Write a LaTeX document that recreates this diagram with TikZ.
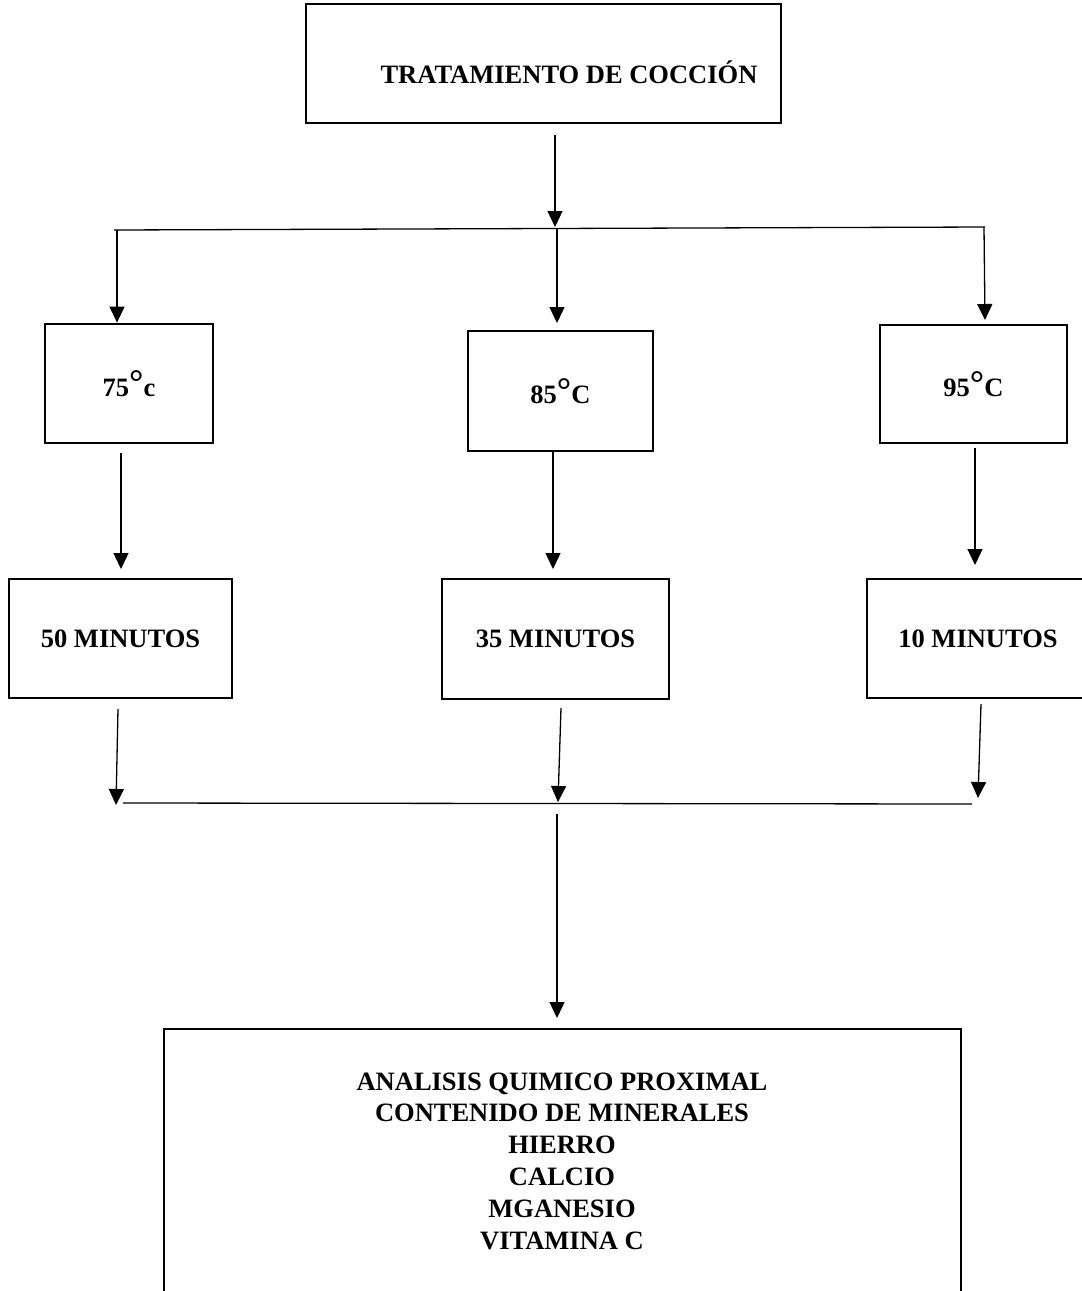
\documentclass[tikz,border=0pt]{standalone}
\usepackage{fontspec}
\setmainfont{Liberation Serif}
\usetikzlibrary{arrows.meta}
\newcommand\mydeg{{\fontsize{36}{36}\selectfont\raisebox{1.5pt}{°}}}
\begin{document}
\begin{tikzpicture}[x=1pt,y=-1pt,
  box/.style={draw=black, line width=2.8pt, inner sep=0pt, rectangle,
    font=\fontsize{26.5}{32}\selectfont\bfseries},
  txt/.style={inner sep=0pt, font=\fontsize{26.5}{32}\selectfont\bfseries},
  conn/.style={line width=1.3pt, draw=black},
  arr/.style={conn, -{Triangle[width=15pt,length=16pt]}}
]
\useasboundingbox (0,0) rectangle (1082,1291);
% top box
\node[box, minimum width=475pt, minimum height=119pt] (top) at (543.5,63.5) {};
\node[txt, anchor=base] (toptxt) at (569,83) {TRATAMIENTO DE COCCIÓN};
% temperature boxes
\node[box, minimum width=168pt, minimum height=119pt] (t75) at (129,383.5) {75\mydeg c};
\node[box, minimum width=185pt, minimum height=120pt] (t85) at (560.5,391) {85\mydeg C};
\node[box, minimum width=187pt, minimum height=118pt] (t95) at (973.5,384) {95\mydeg C};
% time boxes
\node[box, minimum width=223pt, minimum height=119pt] (m50) at (120.5,638.5) {50 MINUTOS};
\node[box, minimum width=227pt, minimum height=120pt] (m35) at (555.5,639) {35 MINUTOS};
\node[box, minimum width=222pt, minimum height=119pt] (m10) at (978,638.5) {10 MINUTOS};
% result box (bottom runs off the page)
\node[box, minimum width=797pt, minimum height=275pt] (res) at (562.5,1166.5) {};
\node[txt, align=center, anchor=base] (restxt) at (562,1249)
  {ANALISIS QUIMICO PROXIMAL\\[-0.2pt]CONTENIDO DE MINERALES\\[-0.2pt]HIERRO\\[-0.2pt]CALCIO\\[-0.2pt]MGANESIO\\[-0.2pt]VITAMINA C};
% junction coordinates
\coordinate (s0) at (555,135);
\coordinate (j0) at (555,227);
\coordinate (hL) at (114,230);
\coordinate (hR) at (985,227);
\coordinate (bL) at (117,230);
\coordinate (bM) at (557,229);
\coordinate (bR) at (984,227);
\coordinate (u75) at (121,453);
\coordinate (u85) at (553,452);
\coordinate (u95) at (975,448);
\coordinate (u50) at (118,709);
\coordinate (u35) at (561,708);
\coordinate (u10) at (981,704);
\coordinate (e50) at (116,805);
\coordinate (e35) at (558,802);
\coordinate (e10) at (978,798);
\coordinate (gL) at (123,803);
\coordinate (gR) at (972,804);
\coordinate (s1) at (557,814);
\coordinate (f1) at (557,1018);
% connectors
\draw[arr] (s0) -- (j0);
\draw[conn] (hL) -- (hR);
\draw[arr] (bL) -- (bL |- t75.north);
\draw[arr] (bM) -- (557,323);
\draw[arr] (bR) -- (985,320);
\draw[arr] (u75) -- (121,569);
\draw[arr] (u85) -- (553,569);
\draw[arr] (u95) -- (975,565);
\draw[arr] (u50) -- (e50);
\draw[arr] (u35) -- (e35);
\draw[arr] (u10) -- (e10);
\draw[conn] (gL) -- (gR);
\draw[arr] (s1) -- (f1);
\end{tikzpicture}
\end{document}
